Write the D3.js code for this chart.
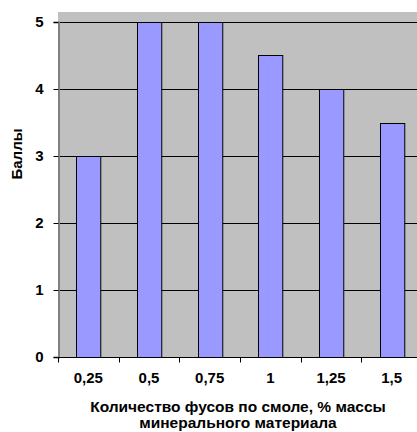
<!DOCTYPE html>
<html>
<head>
<meta charset="utf-8">
<script src="https://cdn.jsdelivr.net/npm/d3@7"></script>
<style>
  html, body { margin: 0; padding: 0; background: #fff; overflow: hidden; }
  svg { display: block; font-family: Arial, "Liberation Sans", sans-serif; }
</style>
</head>
<body>
<svg id="chart" width="417" height="432"></svg>
<script>
// Content of the mineral-dust additive vs. score
const categories = ["0,25", "0,5", "0,75", "1", "1,25", "1,5"];
const scores = [3, 5, 5, 4.5, 4, 3.5];
const yTicks = [0, 1, 2, 3, 4, 5];
const yTitle = "Баллы";
const xTitleLines = ["Количество фусов по смоле, % массы", "минерального материала"];

const svg = d3.select("#chart");
const plot = { left: 58, right: 422, top: 12, bottom: 357 };

const x = d3.scaleBand()
  .domain(categories)
  .range([plot.left, plot.right])
  .paddingInner(0.6)
  .paddingOuter(0.3);

const xBoundary = d3.scaleLinear()
  .domain([0, categories.length])
  .range([plot.left, plot.right]);

const y = d3.scaleLinear().domain([0, 5]).range([plot.bottom, 22]);

// plot background
svg.append("rect")
  .attr("x", plot.left).attr("y", plot.top)
  .attr("width", plot.right - plot.left).attr("height", plot.bottom - plot.top)
  .attr("fill", "#c0c0c0");

// horizontal gridlines
svg.append("g")
  .selectAll("line")
  .data(yTicks.filter(d => d > 0))
  .join("line")
  .attr("x1", plot.left).attr("x2", plot.right)
  .attr("y1", d => Math.round(y(d)) + 0.5).attr("y2", d => Math.round(y(d)) + 0.5)
  .attr("stroke", "#000").attr("stroke-width", 1);

// bars
svg.append("g")
  .selectAll("rect")
  .data(scores)
  .join("rect")
  .attr("x", (d, i) => Math.round(x(categories[i])) + 0.5)
  .attr("y", d => Math.round(y(d)) + 0.5)
  .attr("width", x.bandwidth())
  .attr("height", d => Math.round(y(0)) - Math.round(y(d)))
  .attr("fill", "#9999ff")
  .attr("stroke", "#000")
  .attr("stroke-width", 1);

// y axis
const yAxis = svg.append("g")
  .attr("transform", `translate(${plot.left + 0.5},0)`)
  .call(d3.axisLeft(y).tickValues(yTicks).tickFormat(d3.format("d")).tickSize(5).tickPadding(10));
yAxis.select(".domain").attr("stroke", "#808080").attr("stroke-width", 2);
yAxis.selectAll(".tick line").attr("stroke", "#000");
yAxis.selectAll(".tick text")
  .attr("font-size", 15).attr("font-weight", "bold").attr("fill", "#000")
  .attr("font-family", "Arial, 'Liberation Sans', sans-serif");

// x axis baseline with boundary ticks
const xAxisG = svg.append("g")
  .attr("transform", `translate(0,${plot.bottom + 0.5})`);
xAxisG.append("line")
  .attr("x1", plot.left).attr("x2", plot.right)
  .attr("stroke", "#000");
xAxisG.selectAll("line.tk")
  .data(d3.range(categories.length + 1))
  .join("line")
  .attr("class", "tk")
  .attr("x1", i => Math.round(xBoundary(i)) + 0.5)
  .attr("x2", i => Math.round(xBoundary(i)) + 0.5)
  .attr("y1", 0).attr("y2", 5)
  .attr("stroke", "#000");
xAxisG.selectAll("text")
  .data(categories)
  .join("text")
  .attr("x", d => x(d) + x.bandwidth() / 2)
  .attr("y", 25)
  .attr("text-anchor", "middle")
  .attr("font-size", 15).attr("font-weight", "bold")
  .text(d => d);

// axis titles
svg.append("text")
  .attr("transform", `translate(22,154) rotate(-90)`)
  .attr("text-anchor", "middle")
  .attr("font-size", 15).attr("font-weight", "bold")
  .text(yTitle);

svg.append("g")
  .selectAll("text")
  .data(xTitleLines)
  .join("text")
  .attr("x", (plot.left + plot.right) / 2 - 2)
  .attr("y", (d, i) => 412 + i * 16)
  .attr("text-anchor", "middle")
  .attr("font-size", 15.5).attr("font-weight", "bold")
  .text(d => d);
</script>
</body>
</html>
